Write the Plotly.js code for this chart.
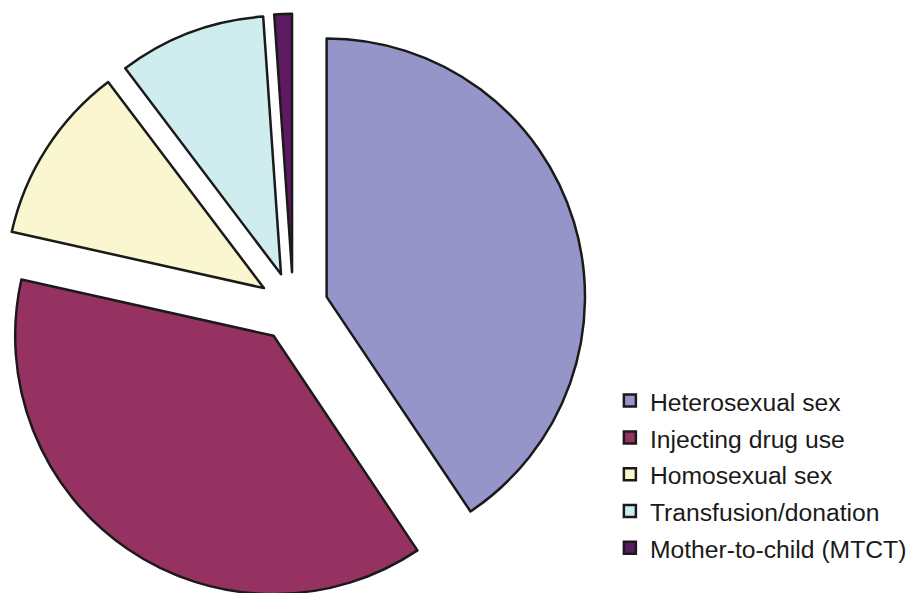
<!DOCTYPE html>
<html>
<head>
<meta charset="utf-8">
<script src="https://cdn.plot.ly/plotly-3.0.1.min.js"></script>
<style>
html, body { margin: 0; padding: 0; overflow: hidden; background: #fff; }
#chart { width: 912px; height: 602px; }
</style>
</head>
<body>
<div id="chart"></div>
<script>
const categories = ["Heterosexual sex", "Injecting drug use", "Homosexual sex", "Transfusion/donation", "Mother-to-child (MTCT)"];
const shares = [40.6, 37.9, 11.2, 9.2, 1.1];
const sliceColors = ["#9595C9", "#953262", "#FAF7D0", "#CFECEF", "#5E1A60"];

const labelText = categories.map(c => '<span style="font-size:24.7px">' + c + '</span>');

const trace = {
  type: "pie",
  labels: labelText,
  values: shares,
  sort: false,
  direction: "clockwise",
  rotation: 0,
  pull: 0.135,
  textinfo: "none",
  hoverinfo: "label+percent",
  marker: { colors: sliceColors, line: { color: "#1a1a1a", width: 2.5 } },
  domain: { x: [0, 0.6445], y: [0, 1] }
};

const layout = {
  width: 912,
  height: 602,
  margin: { l: 0, r: 0, t: 12, b: 0 },
  paper_bgcolor: "#ffffff",
  plot_bgcolor: "#ffffff",
  showlegend: true,
  legend: {
    x: 0.6702, xanchor: "left",
    y: 0.381, yanchor: "top",
    font: { family: "Liberation Sans, Arial, sans-serif", size: 26, color: "#1a1a1a" },
    bgcolor: "rgba(0,0,0,0)",
    borderwidth: 0
  },
  font: { family: "Liberation Sans, Arial, sans-serif", color: "#1a1a1a" }
};

Plotly.newPlot("chart", [trace], layout, { displayModeBar: false, staticPlot: true });
</script>
</body>
</html>
